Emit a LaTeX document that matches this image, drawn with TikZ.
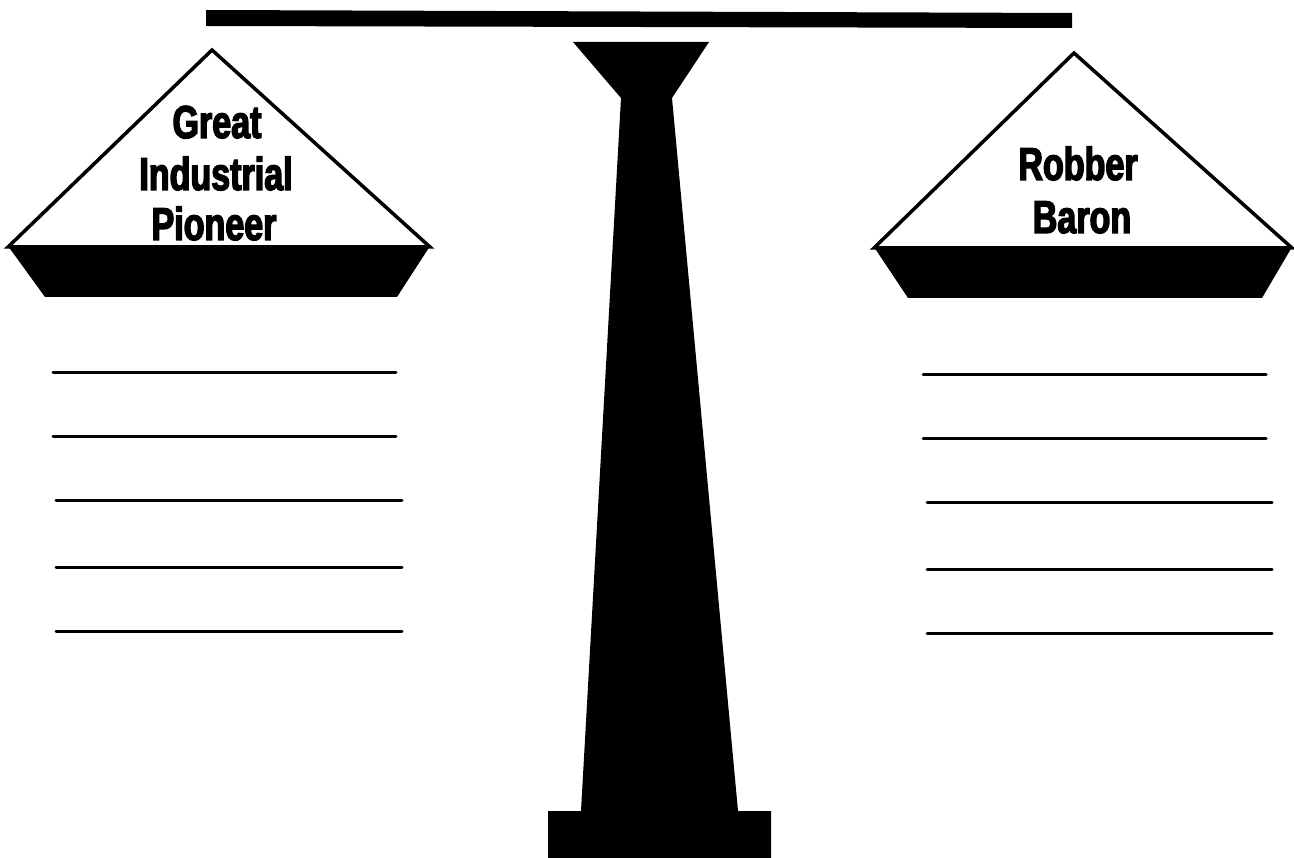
\documentclass[tikz,border=0pt]{standalone}
\usepackage{fontspec}
\newfontfamily\heavyfont{Liberation Sans Bold}[FakeStretch=0.74,FakeBold=3]
\tikzset{
  pantext/.style={anchor=base,inner sep=0pt,font=\heavyfont\fontsize{46}{51}\selectfont},
  panshape/.style={draw=black,fill=white,line width=3.5pt,line join=miter},
  blackpart/.style={fill=black,draw=none},
  writeline/.style={draw=black,line width=3pt,line cap=round}
}
\begin{document}
\begin{tikzpicture}[x=1pt,y=-1pt]
\useasboundingbox (0,0) rectangle (1294,858);
% beam
\fill (206,10) -- (1072,13) -- (1072,28) -- (206,26) -- cycle;
% pillar
\path[blackpart] (573,42) -- (709,42) -- (672,98) -- (738,811) -- (771,811) -- (771,858)
  -- (548,858) -- (548,811) -- (581,811) -- (621,98) -- cycle;
% left pan
\path[panshape] (8,247) -- (212,50) -- (430,247) -- cycle;
\path[blackpart] (8,246) -- (430,246) -- (397,297) -- (45,297) -- cycle;
% right pan
\path[panshape] (874,248) -- (1074,53) -- (1292,248) -- cycle;
\path[blackpart] (874,247) -- (1292,247) -- (1262,298) -- (908,298) -- cycle;
% texts
\node[pantext] (great) at (217,138) {Great};
\node[pantext] (industrial) at (216,190) {Industrial};
\node[pantext] (pioneer) at (214,240) {Pioneer};
\node[pantext] (robber) at (1078,180) {Robber};
\node[pantext] (baron) at (1082,233) {Baron};
% left lines
\draw[writeline] (53,373) -- (396,373);
\draw[writeline] (53,437) -- (396,437);
\draw[writeline] (56,501) -- (402,501);
\draw[writeline] (56,567) -- (402,567);
\draw[writeline] (56,631) -- (402,631);
% right lines
\draw[writeline] (923,375) -- (1266,375);
\draw[writeline] (923,439) -- (1266,439);
\draw[writeline] (927,503) -- (1272,503);
\draw[writeline] (927,569) -- (1272,569);
\draw[writeline] (927,633) -- (1272,633);
\end{tikzpicture}
\end{document}
